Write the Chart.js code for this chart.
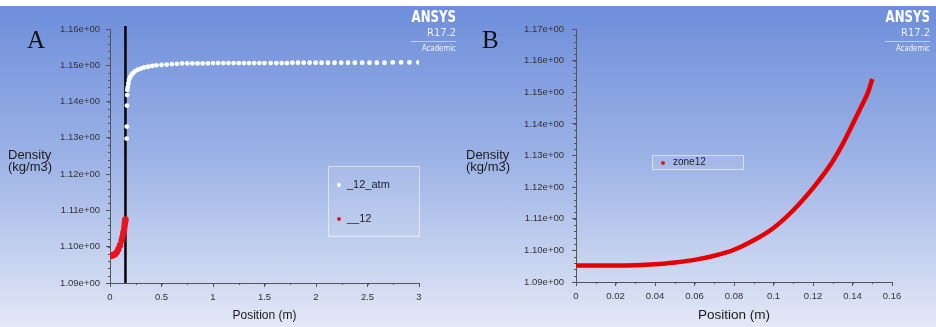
<!DOCTYPE html>
<html>
<head>
<meta charset="utf-8">
<script src="https://cdn.jsdelivr.net/npm/chart.js@4.4.1/dist/chart.umd.min.js"></script>
<style>
    body { margin: 0; width: 936px; height: 327px; background: #fff; position: relative; overflow: hidden; font-family: 'Liberation Sans', Arial, sans-serif; }
    .panel { position: absolute; top: 6px; height: 321px; background: linear-gradient(#6e8edb 0%, #9db3e6 48%, #e3e8f6 100%); }
    #panel-a { left: 0; width: 459px; }
    #panel-b { left: 459px; width: 477px; }
    canvas { position: absolute; top: 0; }
    .letter { position: absolute; top: 26px; font-family: 'Liberation Serif', serif; font-size: 25px; color: #111; }
    .axis-name { position: absolute; top: 149px; font-size: 13px; line-height: 12px; color: #1a1a1a; }
    .logo { position: absolute; top: 9px; text-align: right; color: #fff; font-family: 'DejaVu Sans Condensed', 'DejaVu Sans', sans-serif; }
    .logo .brand { font-weight: bold; font-size: 15px; line-height: 17px; transform: scaleX(0.87); transform-origin: right center; }
    .logo .release { font-size: 11px; line-height: 13px; color: rgba(255,255,255,0.85); padding-bottom: 2px; border-bottom: 1px solid rgba(255,255,255,0.55); margin-left: 6px; }
    .logo .edition { font-size: 9px; line-height: 12px; color: rgba(255,255,255,0.9); transform: scaleX(0.86); transform-origin: right center; }
    .legend { position: absolute; border: 1px solid rgba(255,255,255,0.55); background: rgba(255,255,255,0.08); font-size: 11px; color: #222; }
    .legend .item { position: absolute; left: 18px; white-space: nowrap; }
    .legend .dot { position: absolute; width: 4px; height: 4px; border-radius: 50%; }
</style>
</head>
<body>
<div class="panel" id="panel-a"></div>
<div class="panel" id="panel-b"></div>
<canvas id="chart-a" width="459" height="327" style="left:0"></canvas>
<canvas id="chart-b" width="477" height="327" style="left:459px"></canvas>

<div class="letter" style="left:27px">A</div>
<div class="letter" style="left:482px">B</div>
<div class="axis-name" style="left:8px">Density<br>(kg/m3)</div>
<div class="axis-name" style="left:466px">Density<br>(kg/m3)</div>

<div class="logo" style="right:480px"><div class="brand">ANSYS</div><div class="release">R17.2</div><div class="edition">Academic</div></div>
<div class="logo" style="right:6px"><div class="brand">ANSYS</div><div class="release">R17.2</div><div class="edition">Academic</div></div>

<div class="legend" style="left:328px; top:166px; width:90px; height:69px;">
    <span class="dot" style="left:8px; top:16px; background:#fff;"></span>
    <span class="item" style="top:11px;">_12_atm</span>
    <span class="dot" style="left:8px; top:50px; background:#e8141e;"></span>
    <span class="item" style="top:45px;">__12</span>
</div>
<div class="legend" style="left:652px; top:155px; width:90px; height:13px; font-size:10px;">
    <span class="dot" style="left:8px; top:5px; background:#e8141e;"></span>
    <span class="item" style="top:0px; left:20px;">zone12</span>
</div>

<script>
// Panel A - "_12_atm" (white points)
const atmPosition = [0.162, 0.163, 0.165, 0.167, 0.168, 0.172, 0.178, 0.185, 0.195, 0.21, 0.225, 0.245, 0.27, 0.3, 0.33, 0.37, 0.41, 0.45, 0.5, 0.55, 0.6, 0.65, 0.7, 0.75, 0.8, 0.85, 0.9, 0.95, 1.0, 1.05, 1.1, 1.15, 1.2, 1.25, 1.3, 1.35, 1.4, 1.45, 1.5, 1.56, 1.615, 1.667, 1.718, 1.771, 1.825, 1.88, 1.938, 1.996, 2.054, 2.116, 2.18, 2.245, 2.31, 2.377, 2.449, 2.519, 2.59, 2.665, 2.745, 2.826, 2.907, 2.994];
const atmDensity = [1.1298, 1.1331, 1.1389, 1.1418, 1.1432, 1.1440, 1.1450, 1.1460, 1.1467, 1.1474, 1.1479, 1.1484, 1.1488, 1.1491, 1.1494, 1.1496, 1.1498, 1.1500, 1.1501, 1.1502, 1.1503, 1.1504, 1.1505, 1.1505, 1.1505, 1.1505, 1.1505, 1.1505, 1.1506, 1.1506, 1.1506, 1.1506, 1.1506, 1.1506, 1.1506, 1.1506, 1.1506, 1.1506, 1.1506, 1.1506, 1.1506, 1.1506, 1.1506, 1.1507, 1.1507, 1.1507, 1.1507, 1.1507, 1.1507, 1.1507, 1.1507, 1.1507, 1.1507, 1.1507, 1.1507, 1.1507, 1.1507, 1.1507, 1.1508, 1.1508, 1.1508, 1.1508];

// Panel A - "__12" (red points)
const zoneAPosition = [0, 0.01, 0.02, 0.03, 0.048, 0.065, 0.081, 0.097, 0.113, 0.122, 0.129, 0.136, 0.14, 0.144, 0.147, 0.15];
const zoneADensity = [1.0975, 1.0975, 1.0976, 1.0977, 1.0979, 1.0985, 1.0993, 1.1004, 1.1017, 1.1027, 1.1037, 1.1045, 1.1055, 1.1064, 1.1070, 1.1075];

// Panel A - vertical black marker
const markerPosition = [0.15, 0.15];
const markerDensity = [1.09, 1.1608];

// Panel B - "zone12"
const zoneBPosition = [0, 0.01, 0.02, 0.03, 0.04, 0.05, 0.06, 0.07, 0.08, 0.09, 0.1, 0.11, 0.12, 0.125, 0.13, 0.135, 0.14, 0.145, 0.148, 0.15];
const zoneBDensity = [1.0952, 1.0952, 1.0952, 1.0953, 1.0956, 1.0962, 1.0970, 1.0983, 1.1002, 1.1032, 1.1071, 1.1127, 1.1197, 1.1237, 1.1282, 1.1336, 1.1398, 1.1462, 1.1502, 1.1542];

// Tick labels
const xTicksA = [0, 0.5, 1, 1.5, 2, 2.5, 3];
const yTicksA = [1.09, 1.10, 1.11, 1.12, 1.13, 1.14, 1.15, 1.16];
const xTicksB = [0, 0.02, 0.04, 0.06, 0.08, 0.1, 0.12, 0.14, 0.16];
const yTicksB = [1.09, 1.10, 1.11, 1.12, 1.13, 1.14, 1.15, 1.16, 1.17];

const AXIS_COLOR = '#555';
const TICK_FONT = { family: 'Liberation Sans', size: 9.5 };

/**
 * Small tick marks between the labelled ones, placed through the chart's own scales.
 */
const minorTickPlugin = {
    id: 'minorTicks',
    afterDraw(chart, args, opts) {
        const { ctx, scales: { x, y } } = chart;
        ctx.save();
        ctx.strokeStyle = AXIS_COLOR;
        ctx.lineWidth = 1;
        ctx.beginPath();
        const nx = Math.round((x.max - x.min) / opts.xStep);
        for (let i = 0; i <= nx; i++) {
            const px = Math.round(x.getPixelForValue(x.min + i * opts.xStep)) + 0.5;
            ctx.moveTo(px, y.bottom);
            ctx.lineTo(px, y.bottom + 2);
        }
        const ny = Math.round((y.max - y.min) / opts.yStep);
        for (let i = 0; i <= ny; i++) {
            const py = Math.round(y.getPixelForValue(y.min + i * opts.yStep)) + 0.5;
            ctx.moveTo(x.left, py);
            ctx.lineTo(x.left - 2, py);
        }
        ctx.stroke();
        ctx.restore();
    }
};

function toPoints(xs, ys) {
    return xs.map((v, i) => ({ x: v, y: ys[i] }));
}

/**
 * Builds the shared scale options for one panel.
 */
function buildScales(cfg) {
    return {
        x: {
            type: 'linear',
            min: cfg.xMin, max: cfg.xMax,
            afterFit: scale => { scale.height = cfg.xHeight; },
            afterBuildTicks: scale => { scale.ticks = cfg.xTicks.map(v => ({ value: v })); },
            grid: { drawOnChartArea: false, drawTicks: true, tickLength: 4, color: AXIS_COLOR },
            border: { display: true, color: AXIS_COLOR },
            ticks: { font: TICK_FONT, color: '#333', padding: 5, maxRotation: 0, autoSkip: false, callback: v => String(v) },
            title: { display: true, text: 'Position (m)', color: '#1a1a1a', font: { family: 'Liberation Sans', size: cfg.titleSize }, padding: { top: 2, bottom: 4 } }
        },
        y: {
            type: 'linear',
            min: cfg.yMin, max: cfg.yMax,
            afterFit: scale => { scale.width = cfg.yWidth; },
            afterBuildTicks: scale => { scale.ticks = cfg.yTicks.map(v => ({ value: v })); },
            grid: { drawOnChartArea: false, drawTicks: true, tickLength: 4, color: AXIS_COLOR },
            border: { display: true, color: AXIS_COLOR },
            ticks: { font: TICK_FONT, color: '#333', padding: cfg.yPad, autoSkip: false, callback: v => v.toFixed(2) + 'e+00' }
        }
    };
}

function drawPanelA() {
    new Chart(document.getElementById('chart-a'), {
        type: 'scatter',
        data: {
            datasets: [
                {
                    label: '_12_atm',
                    data: toPoints(atmPosition, atmDensity),
                    backgroundColor: '#ffffff',
                    borderWidth: 0,
                    pointRadius: 2.4
                },
                {
                    label: '__12',
                    data: toPoints(zoneAPosition, zoneADensity),
                    backgroundColor: '#e8141e',
                    borderColor: '#e8141e',
                    showLine: true,
                    pointRadius: 2,
                    borderWidth: 2.5
                },
                {
                    label: 'marker',
                    data: toPoints(markerPosition, markerDensity),
                    borderColor: '#000',
                    borderWidth: 2.5,
                    showLine: true,
                    pointRadius: 0,
                    clip: false
                }
            ]
        },
        options: {
            responsive: false,
            animation: false,
            layout: { padding: { left: 0, top: 29, right: 40, bottom: 0 } },
            plugins: {
                legend: { display: false },
                tooltip: { enabled: false },
                minorTicks: { xStep: 0.25, yStep: 0.002 }
            },
            scales: buildScales({
                xMin: 0, xMax: 3, yMin: 1.09, yMax: 1.16,
                xTicks: xTicksA, yTicks: yTicksA,
                xHeight: 44, yWidth: 110, yPad: 6, titleSize: 12
            })
        },
        plugins: [minorTickPlugin]
    });
}

function drawPanelB() {
    new Chart(document.getElementById('chart-b'), {
        type: 'scatter',
        data: {
            datasets: [
                {
                    label: 'zone12',
                    data: toPoints(zoneBPosition, zoneBDensity),
                    borderColor: '#e60000',
                    backgroundColor: '#e60000',
                    borderWidth: 4.5,
                    showLine: true,
                    cubicInterpolationMode: 'monotone',
                    pointRadius: 0
                }
            ]
        },
        options: {
            responsive: false,
            animation: false,
            layout: { padding: { left: 0, top: 29, right: 44, bottom: 0 } },
            plugins: {
                legend: { display: false },
                tooltip: { enabled: false },
                minorTicks: { xStep: 0.01, yStep: 0.002 }
            },
            scales: buildScales({
                xMin: 0, xMax: 0.16, yMin: 1.09, yMax: 1.17,
                xTicks: xTicksB, yTicks: yTicksB,
                xHeight: 45, yWidth: 117, yPad: 8, titleSize: 13.5
            })
        },
        plugins: [minorTickPlugin]
    });
}

document.addEventListener('DOMContentLoaded', () => {
    drawPanelA();
    drawPanelB();
});
</script>
</body>
</html>
